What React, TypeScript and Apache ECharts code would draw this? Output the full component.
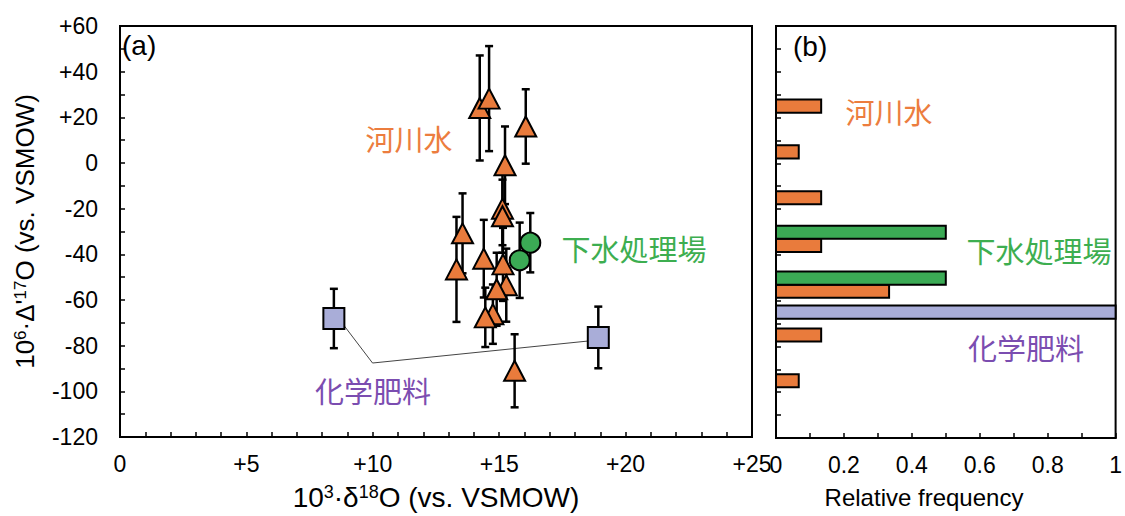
import React, { useEffect, useRef } from 'react';
import * as echarts from 'echarts';

// [δ18O, Δ'17O, error]
const riverPoints = [
  [14.23, 24.1, 23], [14.6, 28.2, 23], [16.05, 16.0, 16.3], [15.23, -1.0, 17],
  [15.13, -20.0, 16], [15.13, -23.3, 16], [13.55, -30.8, 17.5], [13.31, -46.6, 23],
  [14.39, -41.9, 17], [15.15, -44.4, 16], [15.28, -53.5, 16], [14.9, -55.3, 16],
  [14.75, -66.2, 13], [14.45, -67.6, 13], [15.61, -91.0, 16],
];
const sewagePoints = [
  [16.23, -34.9, 13], [15.81, -42.6, 16.5],
];
const fertilizerPoints = [
  [8.46, -68.1, 13], [18.92, -76.4, 13.5],
];
const fertilizerCallout = [
  [8.67, -68.4], [9.99, -87.6], [18.58, -77.9],
];

// histogram: [bin centre, relative frequency]
const riverHist = [
  [25, 0.133], [5, 0.067], [-15, 0.133], [-35, 0.133], [-55, 0.333], [-75, 0.133], [-95, 0.067],
];
const sewageHist = [
  [-35, 0.5], [-55, 0.5],
];
const fertilizerHist = [
  [-65, 1.0],
];

const xTicksLeft = { min: 0, max: 25, interval: 5 };
const yTicks = { min: -120, max: 60, interval: 20 };
const xTicksRight = { min: 0, max: 1, interval: 0.2 };

const ORANGE = '#E97B3C';
const GREEN = '#3BAA55';
const PURPLE_FILL = '#A9ADD8';
const ORANGE_TEXT = '#EC7D3E';
const GREEN_TEXT = '#3DAE50';
const PURPLE_TEXT = '#7B4DB0';
const LATIN = '"Liberation Sans", Arial, sans-serif';
const CJK = '"Noto Sans CJK JP", sans-serif';

export default function App() {
  const ref = useRef<HTMLDivElement>(null);

  useEffect(() => {
    if (!ref.current) return;
    const chart = echarts.init(ref.current, null, { renderer: 'svg' });

    const axisLineStyle = { color: '#000', width: 2 };
    const tickStyle = { color: '#000', width: 1.5 };
    const labelStyle = { color: '#000', fontSize: 23, fontFamily: LATIN };
    const nameStyle = (size: number, sup: number) => ({
      color: '#000',
      fontSize: size,
      fontFamily: LATIN,
      rich: {
        sup: { fontSize: sup, fontFamily: LATIN, color: '#000', verticalAlign: 'top', padding: [0, 0, 9, 0] },
        n: { fontSize: size, fontFamily: LATIN, color: '#000' },
      },
    });

    const errorBarSeries = (data: number[][]) => ({
      type: 'custom',
      xAxisIndex: 0,
      yAxisIndex: 0,
      z: 2,
      data,
      encode: { x: 0, y: 1 },
      renderItem: (params: any, api: any) => {
        const x = api.value(0);
        const y = api.value(1);
        const e = api.value(2);
        const top = api.coord([x, y + e]);
        const bot = api.coord([x, y - e]);
        const cw = 4;
        const st = { stroke: '#000', lineWidth: 2.5 };
        return {
          type: 'group',
          children: [
            { type: 'line', shape: { x1: top[0], y1: top[1], x2: bot[0], y2: bot[1] }, style: st },
            { type: 'line', shape: { x1: top[0] - cw, y1: top[1], x2: top[0] + cw, y2: top[1] }, style: st },
            { type: 'line', shape: { x1: bot[0] - cw, y1: bot[1], x2: bot[0] + cw, y2: bot[1] }, style: st },
          ],
        };
      },
    });

    const sewageBins = new Set(sewageHist.map((d) => d[0]));
    const histSeries = (data: number[][], fill: string, kind: string) => ({
      type: 'custom',
      xAxisIndex: 1,
      yAxisIndex: 1,
      z: 3,
      data,
      encode: { x: 1, y: 0 },
      clip: false,
      renderItem: (params: any, api: any) => {
        const center = api.value(0);
        const freq = api.value(1);
        const binH = api.size([0, 10])[1];
        const h = binH * 0.57;
        const p0 = api.coord([0, center]);
        const p1 = api.coord([freq, center]);
        let top = p0[1] - h / 2;
        if (kind === 'sewage') top = p0[1] - 0.2 * binH - h;
        else if (kind === 'river' && sewageBins.has(center)) top = p0[1] - 0.2 * binH;
        return {
          type: 'rect',
          shape: { x: p0[0], y: top, width: p1[0] - p0[0], height: h },
          style: { fill, stroke: '#000', lineWidth: 2 },
        };
      },
    });

    const text = (t: string, x: number, y: number, fill: string, size = 29, family = CJK, align = 'center') => ({
      type: 'text',
      x,
      y,
      z: 10,
      style: { text: t, fill, fontSize: size, fontFamily: family, align, verticalAlign: 'middle' },
    });

    chart.setOption({
      animation: false,
      backgroundColor: '#fff',
      grid: [
        { left: 120, top: 26, width: 632, height: 412, show: true, borderColor: '#000', borderWidth: 2, backgroundColor: 'transparent' },
        { left: 776, top: 26, width: 346, height: 412, show: true, borderColor: '#000', borderWidth: 2, backgroundColor: 'transparent' },
      ],
      xAxis: [
        {
          type: 'value', gridIndex: 0, ...xTicksLeft,
          axisLine: { show: true, onZero: false, lineStyle: axisLineStyle },
          axisTick: { show: true, inside: true, length: 5, lineStyle: tickStyle },
          minorTick: { show: true, splitNumber: 5, length: 5, lineStyle: tickStyle },
          splitLine: { show: false },
          axisLabel: { ...labelStyle, margin: 15, formatter: (v: number) => (v === 0 ? '0' : '+' + v) },
          name: '{n|10}{sup|3}{n|·δ}{sup|18}{n|O (vs. VSMOW)}',
          nameLocation: 'middle',
          nameGap: 46,
          nameTextStyle: nameStyle(28, 18),
        },
        {
          type: 'value', gridIndex: 1, ...xTicksRight,
          axisLine: { show: true, onZero: false, lineStyle: axisLineStyle },
          axisTick: { show: true, inside: true, length: 5, lineStyle: tickStyle },
          minorTick: { show: true, splitNumber: 2, length: 5, lineStyle: tickStyle },
          splitLine: { show: false },
          axisLabel: {
            ...labelStyle, margin: 15,
            formatter: (v: number) => (v === 0 ? '0' : v === 1 ? '1' : v.toFixed(1)),
          },
        },
      ],
      yAxis: [
        {
          type: 'value', gridIndex: 0, ...yTicks,
          axisLine: { show: true, onZero: false, lineStyle: axisLineStyle },
          axisTick: { show: true, inside: true, length: 5, lineStyle: tickStyle },
          minorTick: { show: true, splitNumber: 2, length: 5, lineStyle: tickStyle },
          splitLine: { show: false },
          axisLabel: { ...labelStyle, margin: 22, formatter: (v: number) => (v > 0 ? '+' + v : String(v)) },
          name: "{n|10}{sup|6}{n|·Δ'}{sup|17}{n|O (vs. VSMOW)}",
          nameLocation: 'middle',
          nameGap: 82,
          nameTextStyle: nameStyle(26, 17),
        },
        {
          type: 'value', gridIndex: 1, min: -120, max: 60, interval: 10,
          axisLine: { show: true, onZero: false, lineStyle: axisLineStyle },
          axisTick: { show: true, inside: true, length: 5, lineStyle: tickStyle },
          splitLine: { show: false },
          axisLabel: { show: false },
        },
      ],
      series: [
        {
          type: 'line',
          xAxisIndex: 0,
          yAxisIndex: 0,
          data: fertilizerCallout,
          symbol: 'none',
          z: 1,
          lineStyle: { color: '#444', width: 1 },
        },
        errorBarSeries(fertilizerPoints),
        errorBarSeries(riverPoints),
        errorBarSeries(sewagePoints),
        {
          type: 'scatter', xAxisIndex: 0, yAxisIndex: 0, z: 3,
          data: fertilizerPoints.map((d) => [d[0], d[1]]),
          symbol: 'rect', symbolSize: 21,
          itemStyle: { color: PURPLE_FILL, borderColor: '#000', borderWidth: 2, opacity: 1 },
        },
        {
          type: 'scatter', xAxisIndex: 0, yAxisIndex: 0, z: 3,
          data: riverPoints.map((d) => [d[0], d[1]]),
          symbol: 'triangle', symbolSize: [21, 20],
          itemStyle: { color: ORANGE, borderColor: '#000', borderWidth: 2, opacity: 1 },
        },
        {
          type: 'scatter', xAxisIndex: 0, yAxisIndex: 0, z: 3,
          data: sewagePoints.map((d) => [d[0], d[1]]),
          symbol: 'circle', symbolSize: 20,
          itemStyle: { color: GREEN, borderColor: '#000', borderWidth: 2, opacity: 1 },
        },
        histSeries(riverHist, ORANGE, 'river'),
        histSeries(sewageHist, GREEN, 'sewage'),
        histSeries(fertilizerHist, PURPLE_FILL, 'fertilizer'),
      ],
      graphic: [
        text('(a)', 122, 45, '#000', 28, LATIN, 'left'),
        text('(b)', 793, 46, '#000', 28, LATIN, 'left'),
        text('Relative frequency', 924, 497, '#000', 24, LATIN),
        text('河川水', 409, 138, ORANGE_TEXT),
        text('下水処理場', 634, 248, GREEN_TEXT),
        text('化学肥料', 373, 390, PURPLE_TEXT),
        text('河川水', 889, 111, ORANGE_TEXT),
        text('下水処理場', 1039, 250, GREEN_TEXT),
        text('化学肥料', 1026, 347, PURPLE_TEXT),
      ],
    });

    return () => chart.dispose();
  }, []);

  return (
    <div
      ref={ref}
      style={{ position: 'fixed', left: 0, top: 0, width: 1125, height: 516, background: '#fff' }}
    />
  );
}
